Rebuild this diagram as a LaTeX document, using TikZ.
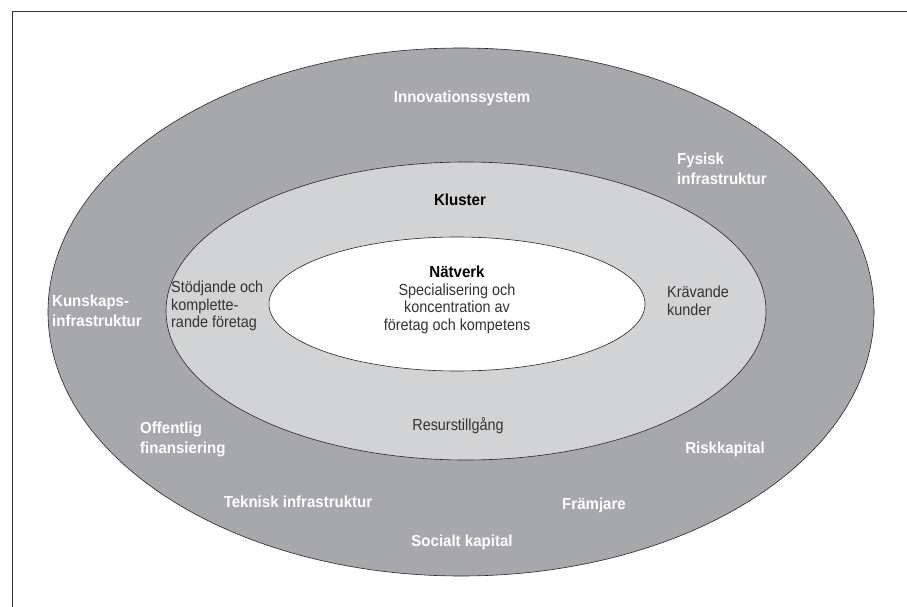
\documentclass[tikz,border=0pt]{standalone}
\usepackage{fontspec}
\setmainfont{Liberation Sans}
\newfontfamily\narrowsans[FakeStretch=0.94]{Liberation Sans}
\newfontfamily\condsans[FakeStretch=0.9]{Liberation Sans}
\usepackage{tikz}

\definecolor{outergray}{RGB}{167,168,171}
\definecolor{midgray}{RGB}{210,211,213}

\begin{document}
\begin{tikzpicture}[x=1pt,y=-1pt]
  \tikzstyle{every node}+=[inner sep=0pt]
  \tikzstyle{ring}=[draw=black!85, line width=0.6pt]
  \tikzstyle{syslbl}=[font=\narrowsans\fontsize{16}{20}\selectfont\bfseries, text=white, align=left]
  \tikzstyle{klulbl}=[font=\condsans\fontsize{16}{17.5}\selectfont, text=black!80, align=left]
  \useasboundingbox (0,0) rectangle (907,607);
  \draw [black!80, line width=1pt] (12,607) -- (12,11.5) -- (907,11.5);
  % the three rings
  \draw [ring, fill=outergray] (461,312) ellipse (413pt and 264pt);
  \draw [ring, fill=midgray] (466,311) ellipse (300pt and 149pt);
  \draw [ring, fill=white] (457,304) ellipse (188pt and 67pt);
  % innovationssystem
  \node [syslbl, align=center] (innov) at (462,98) {Innovationssystem};
  \node [syslbl, anchor=west] (fysisk) at (677,169) {Fysisk\\infrastruktur};
  \node [syslbl, anchor=west] (kunskap) at (52,311) {Kunskaps-\\infrastruktur};
  \node [syslbl, anchor=west] (offentlig) at (140,439) {Offentlig\\finansiering};
  \node [syslbl] (risk) at (725,449) {Riskkapital};
  \node [syslbl] (teknisk) at (298,502) {Teknisk infrastruktur};
  \node [syslbl] (framjare) at (594,505) {Främjare};
  \node [syslbl] (socialt) at (462,542) {Socialt kapital};
  % kluster
  \node [syslbl, text=black] (kluster) at (460,200) {Kluster};
  \node [klulbl, anchor=west] (stodjande) at (171,306) {Stödjande och\\komplette-\\rande företag};
  \node [klulbl, anchor=west] (kravande) at (667,301) {Krävande\\kunder};
  \node [klulbl] (resurs) at (458,426) {Resurstillgång};
  % natverk
  \node [klulbl, align=center] (natverk) at (457,300) {{\narrowsans\fontsize{16}{20}\selectfont\bfseries\color{black}Nätverk}\\Specialisering och\\koncentration av\\företag och kompetens};
\end{tikzpicture}
\end{document}
